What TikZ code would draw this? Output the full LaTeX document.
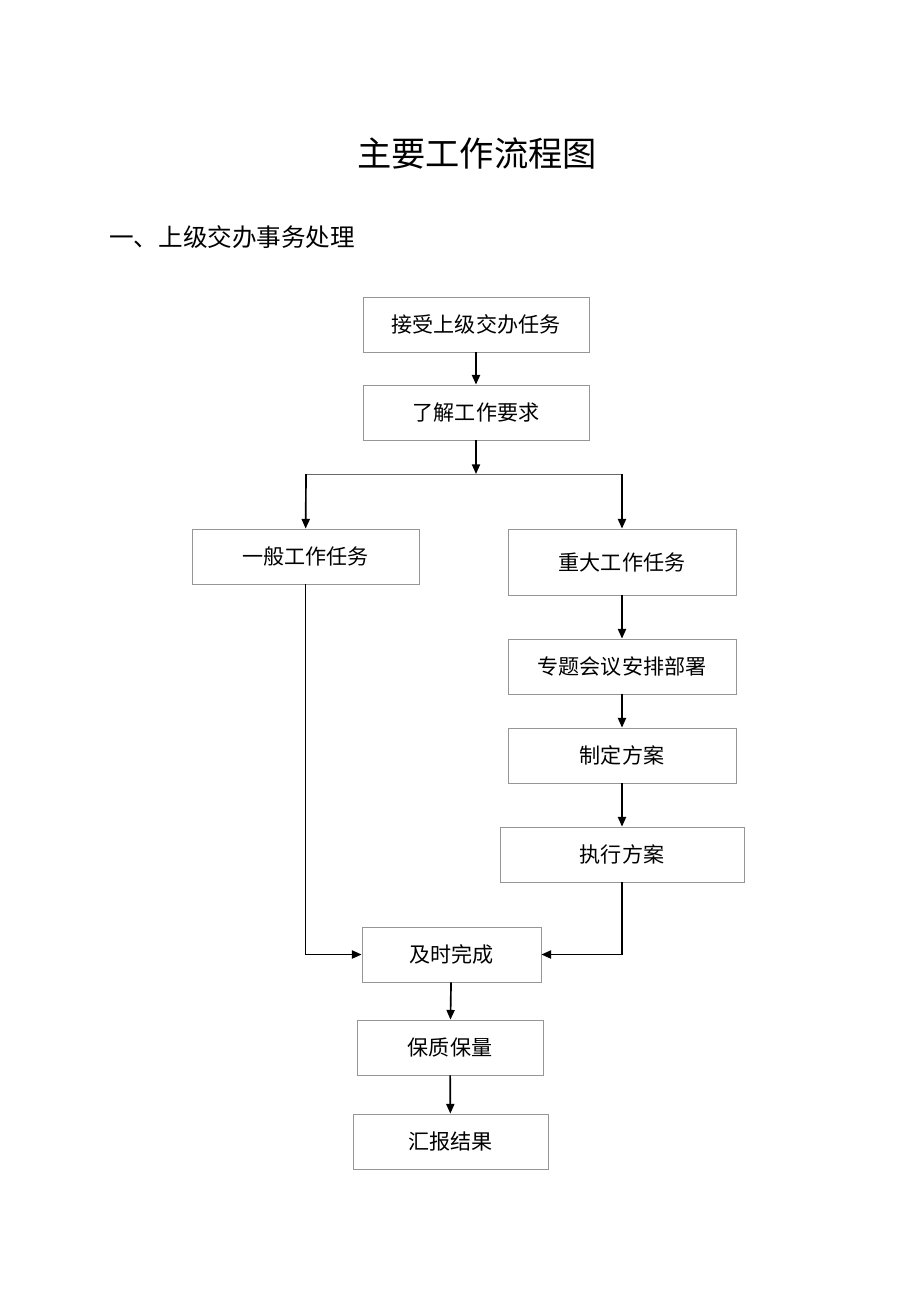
\documentclass[tikz,border=0pt]{standalone}
\usepackage{fontspec}
\setmainfont{Noto Sans CJK SC}
\usepackage{tikz}
\usetikzlibrary{
    arrows.meta, positioning, calc
}
\definecolor{colFrame}{RGB}{150, 150, 150}

\tikzset{
    box/.style={draw=colFrame, line width=0.45pt, fill=white,
        minimum width=4.52cm, minimum height=1.1cm, inner sep=0pt, font=\fontsize{12}{14}\selectfont},
    flow/.style={line width=0.95pt, -{Triangle[length=5.5pt, width=4.6pt]}}
}

\begin{document}
\begin{tikzpicture}[x=0.02cm, y=-0.02cm]
    \useasboundingbox (0, 0) rectangle (920, 1302);
    % --- Titel ---
    \node (title) at (477, 153) {\fontsize{19.5}{22}\selectfont 主要工作流程图};
    \node[anchor=west] (section) at (103, 237) {\fontsize{14}{16}\selectfont 一、上级交办事务处理};

    % --- Kette oben ---
    \node[box] (accept) at (476, 324.5) {接受上级交办任务};
    \node[box] (understand) at (476, 412.5) {了解工作要求};

    % Verzweigung
    \coordinate (split) at (476, 474);
    \coordinate (splitL) at (306, 474);
    \coordinate (splitR) at (622, 474);

    % --- linker Zweig ---
    \node[box, minimum width=4.54cm] (general) at (305.5, 556.5) {一般工作任务};

    % --- rechter Zweig ---
    \node[box, minimum width=4.56cm, minimum height=1.32cm] (major) at (622, 562) {重大工作任务};
    \node[box, minimum width=4.56cm] (meeting) at (622, 666.5) {专题会议安排部署};
    \node[box, minimum width=4.56cm] (plan) at (622, 755.5) {制定方案};
    \node[box, minimum width=4.88cm] (execute) at (622, 854.5) {执行方案};

    % --- Kette unten ---
    \node[box, minimum width=3.58cm] (finish) at (451.5, 954.5) {及时完成};
    \node[box, minimum width=3.72cm] (quality) at (450, 1047.5) {保质保量};
    \node[box, minimum width=3.9cm] (report) at (450.5, 1141.5) {汇报结果};

    % Pfeile
    \draw[flow] (accept) -- (understand);
    \draw[flow] (understand) -- (split);
    \draw[colFrame!70!black, line width=0.5pt] (splitL) -- (splitR);
    \draw[flow] (splitL) -- (general);
    \draw[flow] (splitR) -- (major);
    \draw[flow] (major) -- (meeting);
    \draw[flow] (meeting) -- (plan);
    \draw[flow] (plan) -- (execute);
    \draw[flow] (general.south) |- (finish.west);
    \draw[flow] (execute.south) |- (finish.east);
    \draw[flow] (finish) -- (quality);
    \draw[flow] (quality) -- (report);

\end{tikzpicture}
\end{document}
